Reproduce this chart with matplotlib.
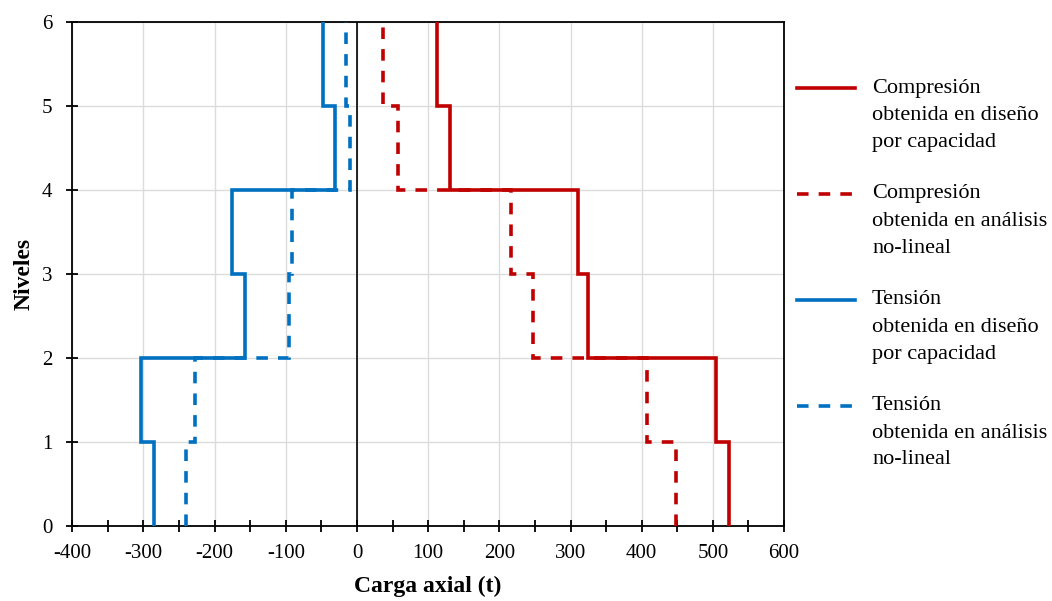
import matplotlib
matplotlib.use("Agg")
import matplotlib.pyplot as plt
from matplotlib.lines import Line2D
from matplotlib.ticker import MultipleLocator
import numpy as np

# Story edges (levels) and axial load per story, from level 0 upwards
niveles = [0, 1, 2, 3, 4, 5, 6]
compresion_diseno = [522, 505, 325, 310, 130, 113]
compresion_nolineal = [448, 408, 247, 217, 58, 37]
tension_diseno = [-285, -304, -158, -175, -31, -48]
tension_nolineal = [-240, -228, -95, -91, -10, -15]

etiquetas = [
    "Compresión\nobtenida en diseño\npor capacidad",
    "Compresión\nobtenida en análisis\nno-lineal",
    "Tensión\nobtenida en diseño\npor capacidad",
    "Tensión\nobtenida en análisis\nno-lineal",
]

ROJO = "#C00000"
AZUL = "#0070C0"
plt.rcParams["font.family"] = ["Liberation Serif", "DejaVu Serif"]
plt.rcParams["axes.unicode_minus"] = False

fig = plt.figure(figsize=(10.52, 6.01), dpi=100)
ax = fig.add_axes([0.0687, 0.1253, 0.6766, 0.8386])

estilos = [
    (compresion_diseno, ROJO, "-"),
    (compresion_nolineal, ROJO, (0, (3.2, 2.8))),
    (tension_diseno, AZUL, "-"),
    (tension_nolineal, AZUL, (0, (3.2, 2.8))),
]
for valores, color, ls in estilos:
    ax.stairs(valores, niveles, orientation="horizontal", baseline=None,
              color=color, linestyle=ls, linewidth=2.6, zorder=3)

ax.axvline(0, color="black", linewidth=1.2, zorder=2)

ax.set_xlim(-400, 600)
ax.set_ylim(0, 6)
ax.xaxis.set_major_locator(MultipleLocator(100))
ax.xaxis.set_minor_locator(MultipleLocator(50))
ax.yaxis.set_major_locator(MultipleLocator(1))
ax.grid(True, which="major", color="#dcdcdc", linewidth=1.0, zorder=0)
ax.set_axisbelow(True)

for s in ax.spines.values():
    s.set_linewidth(1.3)
    s.set_color("black")

ax.tick_params(axis="x", which="both", direction="inout", length=9, width=1.3,
               labelsize=15, pad=9, top=False)
ax.tick_params(axis="y", which="major", direction="inout", length=9, width=1.3,
               labelsize=15, pad=10, right=False)

ax.set_xlabel("Carga axial (t)", fontsize=17, fontweight="bold", labelpad=9)
ax.set_ylabel("Niveles", fontsize=17, fontweight="bold", labelpad=5)

# Legend drawn beside the plot: handle aligned with first line of each label
W, H = 1052, 601
y0 = 88
paso = 106
for i, ((valores, color, ls), texto) in enumerate(zip(estilos, etiquetas)):
    yp = 1 - (y0 + i * paso) / H
    fig.add_artist(Line2D([797 / W, 855 / W], [yp, yp], color=color,
                          linestyle=ls, linewidth=2.6))
    for j, linea in enumerate(texto.split("\n")):
        fig.text(872 / W, 1 - (y0 + i * paso + j * 27) / H, linea,
                 fontsize=16, va="center", ha="left")

fig.savefig("out.png", dpi=100, facecolor="white")
